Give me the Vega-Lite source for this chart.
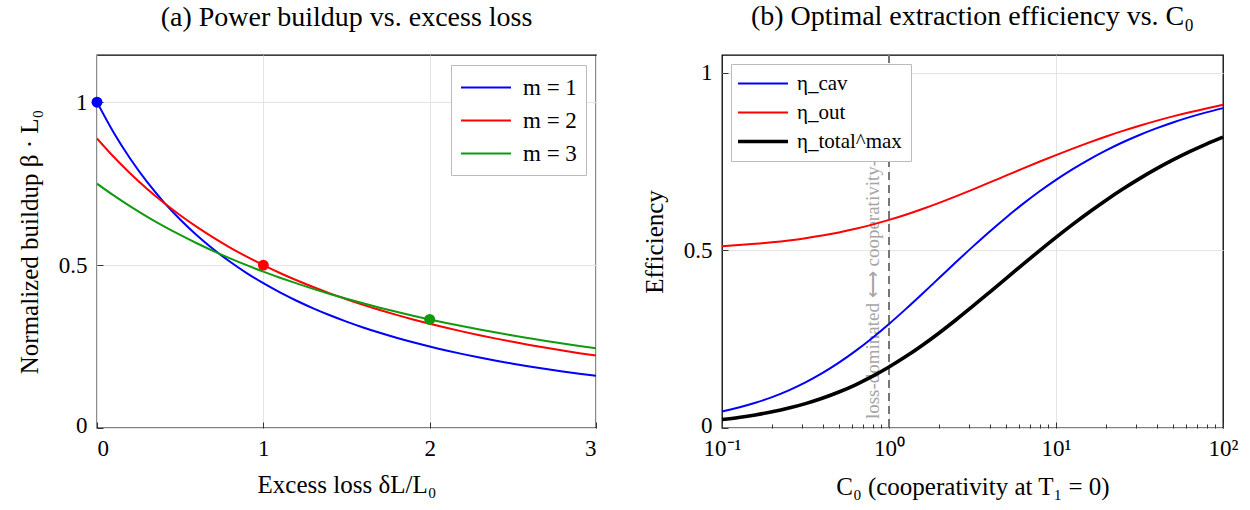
{
  "$schema": "https://vega.github.io/schema/vega-lite/v6.json",
  "background": "white",
  "padding": {"left": 16, "right": 10, "top": 2, "bottom": 5},
  "spacing": 43,
  "resolve": {"scale": {"color": "independent", "x": "independent", "y": "independent"}, "legend": {"color": "independent"}},
  "config": {
    "font": "Liberation Serif",
    "view": {"stroke": "black", "strokeWidth": 1.3},
    "axis": {"domain": false, "labelFont": "Liberation Serif", "titleFont": "Liberation Serif", "labelFontSize": 23, "titleFontSize": 25, "titleFontWeight": "normal", "labelColor": "black", "titleColor": "black", "gridColor": "#e4e4e4", "gridWidth": 1, "tickColor": "#333333", "tickSize": -6, "tickWidth": 1},
    "axisX": {"labelPadding": 15, "titlePadding": 12},
    "axisY": {"labelPadding": 16, "titlePadding": 16},
    "title": {"font": "Liberation Serif", "fontSize": 28, "fontWeight": "normal", "color": "black", "offset": 23},
    "legend": {"labelFont": "Liberation Serif", "labelFontSize": 23, "labelColor": "black", "fillColor": "white", "strokeColor": "#bbbbbb", "padding": 9, "symbolType": "M-1,0L3,0", "symbolSize": 625, "rowPadding": 7, "labelOffset": 36}
  },
  "hconcat": [
    {
      "width": 499,
      "height": 373,
      "title": {"text": "(a) Power buildup vs. excess loss"},
      "layer": [
        {
          "data": {"values": [
            {"x": 0.0, "m1": 1.0, "m2": 0.8889, "m3": 0.75},
            {"x": 0.1, "m1": 0.907, "m2": 0.8325, "m3": 0.7139},
            {"x": 0.2, "m1": 0.8264, "m2": 0.7813, "m3": 0.6803},
            {"x": 0.3, "m1": 0.7561, "m2": 0.7346, "m3": 0.649},
            {"x": 0.4, "m1": 0.6944, "m2": 0.692, "m3": 0.6198},
            {"x": 0.5, "m1": 0.64, "m2": 0.6531, "m3": 0.5926},
            {"x": 0.6, "m1": 0.5917, "m2": 0.6173, "m3": 0.5671},
            {"x": 0.7, "m1": 0.5487, "m2": 0.5844, "m3": 0.5432},
            {"x": 0.8, "m1": 0.5102, "m2": 0.554, "m3": 0.5208},
            {"x": 0.9, "m1": 0.4756, "m2": 0.526, "m3": 0.4998},
            {"x": 1.0, "m1": 0.4444, "m2": 0.5, "m3": 0.48},
            {"x": 1.1, "m1": 0.4162, "m2": 0.4759, "m3": 0.4614},
            {"x": 1.2, "m1": 0.3906, "m2": 0.4535, "m3": 0.4438},
            {"x": 1.3, "m1": 0.3673, "m2": 0.4327, "m3": 0.4272},
            {"x": 1.4, "m1": 0.346, "m2": 0.4132, "m3": 0.4115},
            {"x": 1.5, "m1": 0.3265, "m2": 0.3951, "m3": 0.3967},
            {"x": 1.6, "m1": 0.3086, "m2": 0.3781, "m3": 0.3827},
            {"x": 1.7, "m1": 0.2922, "m2": 0.3622, "m3": 0.3693},
            {"x": 1.8, "m1": 0.277, "m2": 0.3472, "m3": 0.3567},
            {"x": 1.9, "m1": 0.263, "m2": 0.3332, "m3": 0.3447},
            {"x": 2.0, "m1": 0.25, "m2": 0.32, "m3": 0.3333},
            {"x": 2.1, "m1": 0.238, "m2": 0.3076, "m3": 0.3225},
            {"x": 2.2, "m1": 0.2268, "m2": 0.2959, "m3": 0.3122},
            {"x": 2.3, "m1": 0.2163, "m2": 0.2848, "m3": 0.3023},
            {"x": 2.4, "m1": 0.2066, "m2": 0.2743, "m3": 0.293},
            {"x": 2.5, "m1": 0.1975, "m2": 0.2645, "m3": 0.284},
            {"x": 2.6, "m1": 0.189, "m2": 0.2551, "m3": 0.2755},
            {"x": 2.7, "m1": 0.1811, "m2": 0.2462, "m3": 0.2673},
            {"x": 2.8, "m1": 0.1736, "m2": 0.2378, "m3": 0.2595},
            {"x": 2.9, "m1": 0.1666, "m2": 0.2298, "m3": 0.252},
            {"x": 3.0, "m1": 0.16, "m2": 0.2222, "m3": 0.2449}
          ]},
          "transform": [{"fold": ["m1", "m2", "m3"], "as": ["series", "value"]}],
          "mark": {"type": "line", "strokeWidth": 2, "interpolate": "monotone", "clip": true},
          "encoding": {
            "x": {"field": "x", "type": "quantitative", "scale": {"domain": [0, 3], "nice": false, "zero": false},
                  "axis": {"values": [0, 1, 2, 3], "format": "~g", "title": "Excess loss δL/L₀"}},
            "y": {"field": "value", "type": "quantitative", "scale": {"domain": [0, 1.145], "nice": false},
                  "axis": {"values": [0, 0.5, 1], "format": "~g", "title": "Normalized buildup β · L₀",
                           "labelOffset": {"condition": {"test": "datum.value == 0", "value": -3}, "value": 0}}},
            "color": {"field": "series", "type": "nominal",
                      "scale": {"domain": ["m1", "m2", "m3"], "range": ["#0000ff", "#ff0000", "#109a10"]},
                      "legend": {"title": null, "orient": "top-right", "offset": 10, "symbolStrokeWidth": 2,
                                 "labelExpr": "datum.label == 'm1' ? 'm = 1' : datum.label == 'm2' ? 'm = 2' : 'm = 3'"}}
          }
        },
        {
          "data": {"values": [
            {"x": 0, "value": 1.0, "series": "m1"},
            {"x": 1, "value": 0.5, "series": "m2"},
            {"x": 2, "value": 0.3333, "series": "m3"}
          ]},
          "mark": {"type": "point", "filled": true, "size": 120, "opacity": 1, "clip": false},
          "encoding": {
            "x": {"field": "x", "type": "quantitative"},
            "y": {"field": "value", "type": "quantitative"},
            "color": {"field": "series", "type": "nominal", "legend": null}
          }
        }
      ]
    },
    {
      "width": 501,
      "height": 373,
      "title": {"text": "(b) Optimal extraction efficiency vs. C₀"},
      "layer": [
        {
          "data": {"values": [{"C0": 0.8, "y": 0.025, "label": "loss-dominated ⟷ cooperativity-dominated"}]},
          "mark": {"type": "text", "angle": 270, "align": "left", "baseline": "middle", "fontSize": 19, "color": "#a5a5a5", "font": "Liberation Serif"},
          "encoding": {
            "x": {"field": "C0", "type": "quantitative"},
            "y": {"field": "y", "type": "quantitative"},
            "text": {"field": "label"}
          }
        },
        {
          "data": {"values": [{"C0": 1}]},
          "mark": {"type": "rule", "strokeDash": [8, 5], "color": "#777777", "strokeWidth": 2},
          "encoding": {"x": {"field": "C0", "type": "quantitative"}}
        },
        {
          "data": {"values": [
            {"C0": 0.1, "cav": 0.04654, "out": 0.51191, "total": 0.02382},
            {"C0": 0.12589, "cav": 0.05756, "out": 0.51482, "total": 0.02963},
            {"C0": 0.15849, "cav": 0.07092, "out": 0.51838, "total": 0.03676},
            {"C0": 0.19953, "cav": 0.08695, "out": 0.52273, "total": 0.04545},
            {"C0": 0.25119, "cav": 0.106, "out": 0.52798, "total": 0.05597},
            {"C0": 0.31623, "cav": 0.12837, "out": 0.53429, "total": 0.06859},
            {"C0": 0.39811, "cav": 0.15428, "out": 0.54179, "total": 0.08359},
            {"C0": 0.50119, "cav": 0.18383, "out": 0.55061, "total": 0.10122},
            {"C0": 0.63096, "cav": 0.21697, "out": 0.56084, "total": 0.12169},
            {"C0": 0.79433, "cav": 0.25347, "out": 0.57257, "total": 0.14513},
            {"C0": 1.0, "cav": 0.29289, "out": 0.58579, "total": 0.17157},
            {"C0": 1.2589, "cav": 0.33465, "out": 0.60047, "total": 0.20095},
            {"C0": 1.5849, "cav": 0.37802, "out": 0.61653, "total": 0.23306},
            {"C0": 1.9953, "cav": 0.4222, "out": 0.63379, "total": 0.26759},
            {"C0": 2.5119, "cav": 0.46639, "out": 0.65206, "total": 0.30411},
            {"C0": 3.1623, "cav": 0.50984, "out": 0.67107, "total": 0.34214},
            {"C0": 3.9811, "cav": 0.55194, "out": 0.69058, "total": 0.38116},
            {"C0": 5.0119, "cav": 0.59215, "out": 0.7103, "total": 0.4206},
            {"C0": 6.3096, "cav": 0.63013, "out": 0.73, "total": 0.45999},
            {"C0": 7.9433, "cav": 0.66561, "out": 0.74941, "total": 0.49882},
            {"C0": 10.0, "cav": 0.69849, "out": 0.76834, "total": 0.53668},
            {"C0": 12.589, "cav": 0.72873, "out": 0.78662, "total": 0.57323},
            {"C0": 15.849, "cav": 0.75638, "out": 0.8041, "total": 0.60821},
            {"C0": 19.953, "cav": 0.78154, "out": 0.82071, "total": 0.64142},
            {"C0": 25.119, "cav": 0.80433, "out": 0.83635, "total": 0.6727},
            {"C0": 31.623, "cav": 0.82492, "out": 0.85101, "total": 0.70202},
            {"C0": 39.811, "cav": 0.84346, "out": 0.86465, "total": 0.7293},
            {"C0": 50.119, "cav": 0.86014, "out": 0.8773, "total": 0.7546},
            {"C0": 63.096, "cav": 0.87509, "out": 0.88896, "total": 0.77792},
            {"C0": 79.433, "cav": 0.8885, "out": 0.89968, "total": 0.79937},
            {"C0": 100.0, "cav": 0.9005, "out": 0.9095, "total": 0.819}
          ]},
          "transform": [{"fold": ["cav", "out", "total"], "as": ["series", "value"]}],
          "mark": {"type": "line", "interpolate": "monotone"},
          "encoding": {
            "x": {"field": "C0", "type": "quantitative", "scale": {"type": "log", "domain": [0.1, 100], "nice": false},
                  "axis": {"values": [0.1, 0.2, 0.3, 0.4, 0.5, 0.6, 0.7, 0.8, 0.9, 1, 2, 3, 4, 5, 6, 7, 8, 9, 10, 20, 30, 40, 50, 60, 70, 80, 90, 100],
                           "labelExpr": "datum.value == 0.1 ? '10⁻¹' : datum.value == 1 ? '10⁰' : datum.value == 10 ? '10¹' : datum.value == 100 ? '10²' : ''",
                           "gridOpacity": {"condition": {"test": "datum.value == 1 || datum.value == 10", "value": 1}, "value": 0},
                           "tickSize": {"condition": {"test": "datum.value == 0.1 || datum.value == 1 || datum.value == 10 || datum.value == 100", "value": -6}, "value": -4},
                           "labelFlush": false, "labelOverlap": false,
                           "title": "C₀ (cooperativity at T₁ = 0)"}},
            "y": {"field": "value", "type": "quantitative", "scale": {"domain": [0, 1.05], "nice": false},
                  "axis": {"values": [0, 0.5, 1], "format": "~g", "title": "Efficiency",
                           "labelOffset": {"condition": {"test": "datum.value == 0", "value": -3}, "value": 0}}},
            "color": {"field": "series", "type": "nominal",
                      "scale": {"domain": ["cav", "out", "total"], "range": ["#0000ff", "#ff0000", "#000000"]},
                      "legend": {"title": null, "orient": "top-left", "offset": 9, "labelFontSize": 21,
                                 "labelExpr": "datum.label == 'cav' ? 'η_cav' : datum.label == 'out' ? 'η_out' : 'η_total^max'",
                                 "encode": {"symbols": {"update": {"strokeWidth": {"signal": "datum.value == 'total' ? 3.6 : 2"}}}}}},
            "strokeWidth": {"condition": {"test": "datum.series == 'total'", "value": 3.6}, "value": 2}
          }
        }
      ]
    }
  ]
}
